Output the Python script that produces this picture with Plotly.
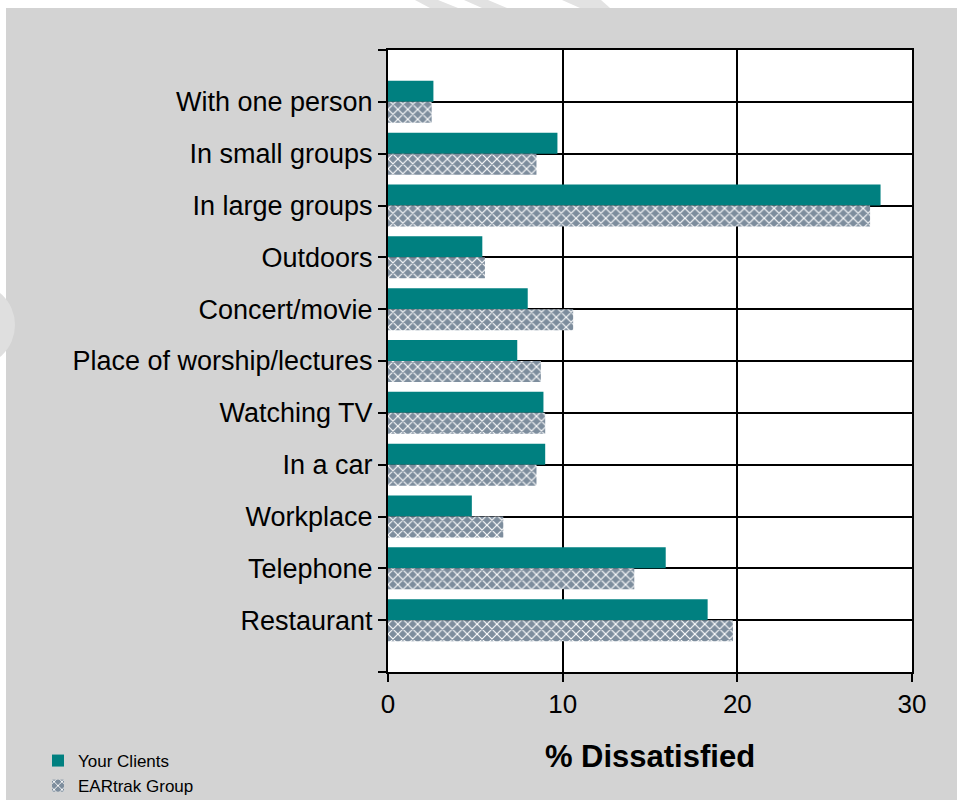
import plotly.graph_objects as go

# Listening situations and % dissatisfied for each group
categories = [
    "With one person",
    "In small groups",
    "In large groups",
    "Outdoors",
    "Concert/movie",
    "Place of worship/lectures",
    "Watching TV",
    "In a car",
    "Workplace",
    "Telephone",
    "Restaurant",
]
your_clients = [2.6, 9.7, 28.2, 5.4, 8.0, 7.4, 8.9, 9.0, 4.8, 15.9, 18.3]
eartrak_group = [2.5, 8.5, 27.6, 5.55, 10.6, 8.75, 9.0, 8.5, 6.6, 14.1, 19.75]
x_ticks = [0, 10, 20, 30]

W, H = 957, 800
ML, MR, MT, MB = 388, 45, 50, 128
PW, PH = W - ML - MR, H - MT - MB

FONT = "Liberation Sans, Arial, sans-serif"
PANEL = "#d3d3d3"

ypos = [i + 1 for i in range(len(categories))]


def px_x(p):
    return (p - ML) / PW


def px_y(p):
    return (H - MB - p) / PH


fig = go.Figure()
fig.add_trace(go.Bar(
    name="Your Clients", y=ypos, x=your_clients, orientation="h",
    marker=dict(color="#008080", line=dict(width=0)),
))
fig.add_trace(go.Bar(
    name="EARtrak Group", y=ypos, x=eartrak_group, orientation="h",
    marker=dict(
        color="#7d8d9d", line=dict(width=0),
        pattern=dict(shape="x", fgcolor="white", bgcolor="#7d8d9d",
                     size=7, solidity=0.3, fillmode="replace"),
    ),
))

# page framing: white border strip along top and left edges
shapes = [
    dict(type="rect", xref="paper", yref="paper", layer="below",
         x0=px_x(0), x1=px_x(W), y0=px_y(8), y1=px_y(0),
         fillcolor="white", line=dict(width=0)),
    dict(type="rect", xref="paper", yref="paper", layer="below",
         x0=px_x(0), x1=px_x(6), y0=px_y(H), y1=px_y(0),
         fillcolor="white", line=dict(width=0)),
    dict(type="circle", xref="paper", yref="paper", layer="below",
         x0=px_x(-75), x1=px_x(15), y0=px_y(368), y1=px_y(282),
         fillcolor="#dfdfdf", line=dict(width=0)),
]
for (a0, a1, b0, b1) in [(415, 438, 430, 458), (464, 488, 482, 507), (562, 601, 580, 610)]:
    path = "M {x0},{y0} L {x1},{y0} L {x3},{y2} L {x2},{y2} Z".format(
        x0=px_x(a0), x1=px_x(a1), x2=px_x(b0), x3=px_x(b1),
        y0=px_y(0), y2=px_y(8))
    shapes.append(dict(type="path", xref="paper", yref="paper", layer="below",
                       path=path, fillcolor="#e2e2e2", line=dict(width=0)))

fig.update_layout(
    width=W, height=H,
    margin=dict(l=ML, r=MR, t=MT, b=MB, pad=0, autoexpand=False),
    paper_bgcolor=PANEL, plot_bgcolor="white",
    barmode="group", bargap=0.19, bargroupgap=0,
    font=dict(family=FONT, color="black"),
    shapes=shapes,
    showlegend=True,
    legend=dict(
        x=px_x(38), y=px_y(743), xanchor="left", yanchor="top",
        bgcolor="rgba(0,0,0,0)", borderwidth=0,
        font=dict(family=FONT, size=17, color="black"),
        traceorder="normal", tracegroupgap=0, itemwidth=30,
    ),
    xaxis=dict(
        range=[0, 30], tickvals=x_ticks, ticktext=[str(v) for v in x_ticks],
        showgrid=True, gridcolor="black", gridwidth=1.8,
        showline=True, linecolor="black", linewidth=2, mirror=True,
        ticks="outside", ticklen=8, tickwidth=2, tickcolor="black",
        zeroline=False, tickfont=dict(family=FONT, size=26),
        title=dict(text="<b>% Dissatisfied</b>", standoff=27,
                   font=dict(family=FONT, size=31)),
        automargin=False, fixedrange=True,
    ),
    yaxis=dict(
        range=[len(categories) + 1, 0],
        tickvals=list(range(len(categories) + 2)),
        ticktext=[""] + categories + [""],
        showgrid=True, gridcolor="black", gridwidth=1.8,
        showline=True, linecolor="black", linewidth=2, mirror=True,
        ticks="outside", ticklen=8, tickwidth=2, tickcolor="black",
        zeroline=False, tickfont=dict(family=FONT, size=27),
        automargin=False, fixedrange=True,
    ),
)

fig.write_html("out.html")
